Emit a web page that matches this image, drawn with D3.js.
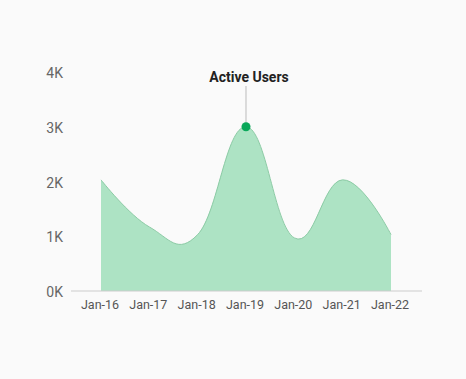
<!DOCTYPE html>
<html>
<head>
<meta charset="utf-8">
<script src="https://cdn.jsdelivr.net/npm/d3@7"></script>
<style>
  html, body { margin: 0; padding: 0; background: #fafafa; }
  svg { display: block; font-family: Roboto, sans-serif; }
</style>
</head>
<body>
<svg id="chart" width="466" height="379"></svg>
<script>
const categories = ["Jan-16", "Jan-17", "Jan-18", "Jan-19", "Jan-20", "Jan-21", "Jan-22"];
const activeUsers = [2030, 1170, 1030, 3000, 970, 2030, 1030];
const yTicks = [0, 1000, 2000, 3000, 4000];
const seriesName = "Active Users";
const highlightIndex = 3;

const svg = d3.select("#chart");
const W = 466, H = 379;
svg.append("rect").attr("width", W).attr("height", H).attr("fill", "#fafafa");

const axisLeft = 71, axisRight = 422;
const x = d3.scalePoint().domain(categories).range([101, 391]);
const y = d3.scaleLinear().domain([0, 4000]).range([291, 72]);

const curve = d3.curveCardinal.tension(-0.25);
const rows = categories.map((c, i) => ({ c, v: activeUsers[i] }));

const area = d3.area()
  .x(d => x(d.c)).y0(y(0)).y1(d => y(d.v))
  .curve(curve);
const line = d3.line()
  .x(d => x(d.c)).y(d => y(d.v))
  .curve(curve);

svg.append("path").datum(rows).attr("d", area).attr("fill", "#ade3c4");
svg.append("path").datum(rows).attr("d", line)
  .attr("fill", "none").attr("stroke", "#8ccba5").attr("stroke-width", 1);

// axis baseline
svg.append("line")
  .attr("x1", axisLeft).attr("x2", axisRight)
  .attr("y1", y(0)).attr("y2", y(0))
  .attr("stroke", "#cccccc").attr("stroke-width", 1.2);

// y labels
svg.append("g").selectAll("text").data(yTicks).join("text")
  .attr("x", 63).attr("y", d => y(d) + 1)
  .attr("text-anchor", "end").attr("dominant-baseline", "central")
  .attr("font-size", 14).attr("fill", "#666")
  .text(d => (d / 1000) + "K");

// x labels
svg.append("g").selectAll("text").data(categories).join("text")
  .attr("x", d => x(d) - 1).attr("y", 309)
  .attr("text-anchor", "middle")
  .attr("font-size", 12.5).attr("fill", "#555")
  .text(d => d);

// annotation
const hx = x(categories[highlightIndex]), hy = y(activeUsers[highlightIndex]);
svg.append("line")
  .attr("x1", hx).attr("x2", hx).attr("y1", 86).attr("y2", hy)
  .attr("stroke", "#bbbbbb").attr("stroke-width", 1);
svg.append("circle").attr("cx", hx).attr("cy", hy).attr("r", 4.5).attr("fill", "#0aa85a");
svg.append("text")
  .attr("x", hx + 3).attr("y", 82)
  .attr("text-anchor", "middle")
  .attr("font-size", 14).attr("font-weight", "bold").attr("fill", "#222")
  .text(seriesName);
</script>
</body>
</html>
